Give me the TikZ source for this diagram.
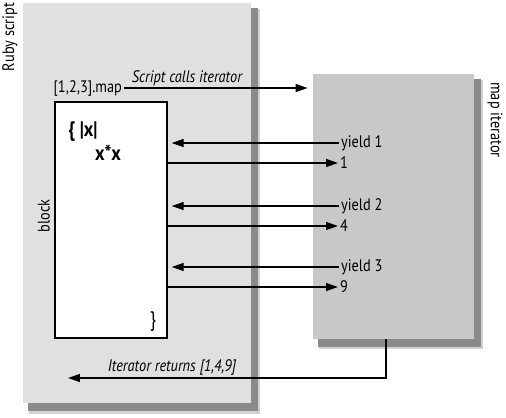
\documentclass[tikz,border=0pt]{standalone}
\usepackage{fontspec}
\setmainfont[FakeStretch=0.86]{PT Sans}
\usetikzlibrary{arrows.meta,fit}
\definecolor{rubygray}{HTML}{E0E0E0}
\definecolor{itergray}{HTML}{C8C8C8}
\definecolor{shadowgray}{HTML}{8A8A8A}
\definecolor{halogray}{HTML}{D2D2D2}
\tikzset{
  panel/.style={inner sep=0pt,draw=none},
  lbl/.style={inner sep=1pt,font=\fontsize{9.5}{11}\selectfont},
  slanted/.style={lbl,font=\fontsize{9.5}{11}\selectfont\itshape},
  code/.style={inner sep=1pt,font=\fontsize{12}{14}\selectfont\bfseries},
  wire/.style={line width=0.8pt},
  flow/.style={wire,-{Triangle[length=2.4mm,width=1.6mm]}}
}
\begin{document}
\begin{tikzpicture}[x=0.02cm,y=-0.02cm]
\useasboundingbox (0,0) rectangle (506,417);

% Shadow of Ruby script panel
\fill[halogray] (29,9) rectangle (260,414);
\fill[shadowgray] (28,8) rectangle (258,411);

% Ruby script panel
\node[panel,fill=rubygray,fit={(23,3)(251,403)}] (ruby) {};
\node[lbl,rotate=90] (rubylbl) at (10,37) {Ruby script};

% Shadow of map iterator panel
\fill[halogray] (319,80) rectangle (483,349);
\fill[shadowgray] (318,79) rectangle (481,347);

% Map iterator panel
\node[panel,fill=itergray,fit={(313,74)(474,339)}] (iter) {};
\node[lbl,rotate=-90] (iterlbl) at (495,120) {map iterator};

% Block box
\node[panel,draw=black,line width=0.8pt,fill=white,fit={(55,102)(167,338)}] (block) {};
\node[lbl,rotate=90] (blocklbl) at (44,216) {block};
\node[code] (open) at (83,132) {\{ |x|};
\node[code] (body) at (108,153) {x*x};
\node[code,font=\fontsize{12}{14}\selectfont] (close) at (153,322) {\}};

% Script calls iterator
\node[lbl,anchor=east] (call) at (124,88) {[1,2,3].map};
\node[slanted] (calltxt) at (187,78) {Script calls iterator};
\draw[flow,shorten >=0.1cm] (call.east) -- (iter.west |- call.east);

% Yields and results
\foreach \i/\v/\yy in {1/1/143,2/4/206,3/9/267}{
  \node[lbl,anchor=west] (yield\i) at (339,\yy) {yield \i};
  \node[lbl,anchor=west] (res\i) at (338,\yy+20) {\v};
  \draw[flow,shorten >=0.08cm] (yield\i.west) -- (block.east |- yield\i.west);
  \draw[flow] (block.east |- res\i.west) -- (res\i.west);
}

% Iterator returns
\coordinate (retfoot) at (386,378);
\coordinate (retend) at (68,378);
\draw[flow] (iter.south -| retfoot) -- (retfoot) -- (retend);
\node[slanted] (rettxt) at (172,367) {Iterator returns [1,4,9]};
\end{tikzpicture}
\end{document}
